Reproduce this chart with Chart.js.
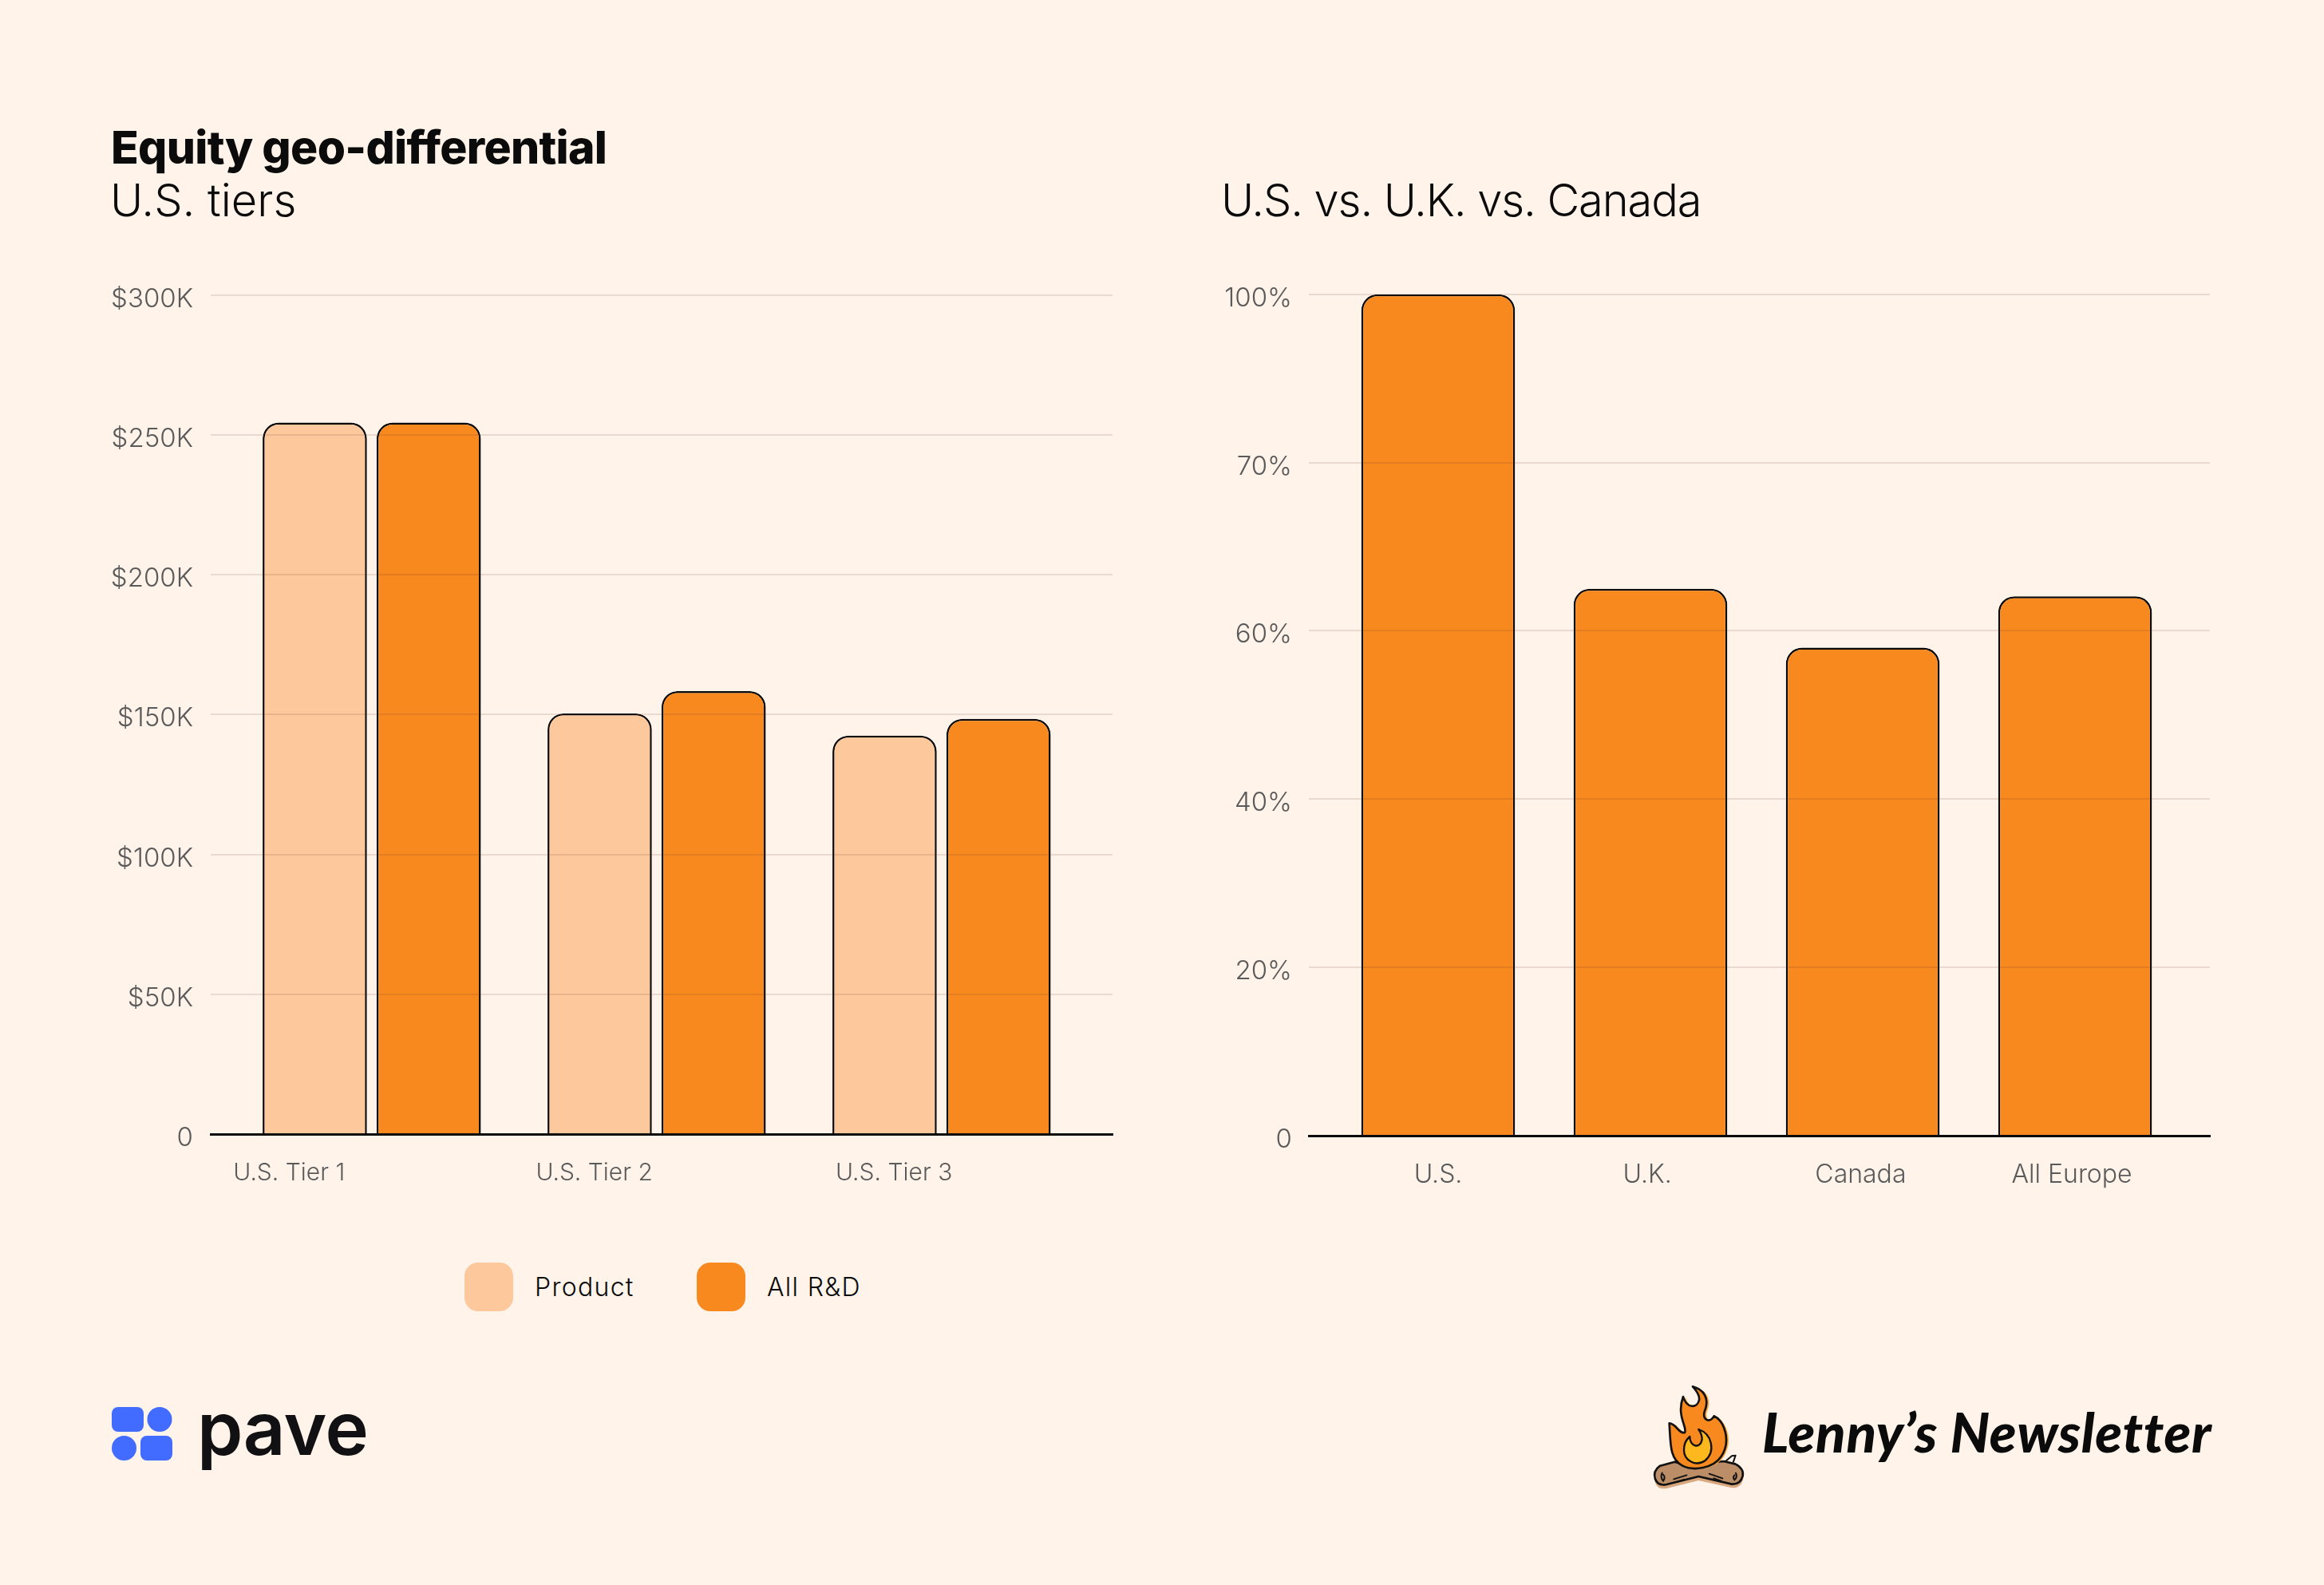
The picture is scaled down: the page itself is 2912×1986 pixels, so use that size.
<!DOCTYPE html>
<html lang="en">
<head>
<meta charset="utf-8">
<title>Equity geo-differential</title>
<script src="https://cdn.jsdelivr.net/npm/chart.js@4"></script>
<style>
  html, body { margin: 0; padding: 0; background: #FFF3EA; }
  #page { position: relative; width: 2912px; height: 1986px; overflow: hidden; background: #FFF3EA; font-family: Inter, sans-serif; color: #0B0B0B; }
  #page > * { position: absolute; }
  canvas { display: block; }
  .heading { white-space: nowrap; line-height: 1; }
  .title { left: 139px; top: 156px; font-size: 57px; font-weight: 800; letter-spacing: -0.7px; }
  .sub { top: 223px; font-size: 56px; font-weight: 300; }
  .swatch { top: 1582px; width: 61px; height: 61px; border-radius: 17px; }
  .legend-text { top: 1597px; font-size: 32px; font-weight: 300; line-height: 1; white-space: nowrap; letter-spacing: 1.3px; }
  .pave-word { left: 247px; top: 1744px; font-size: 92px; font-weight: 600; line-height: 1; color: #111114; letter-spacing: -0.5px; }
  .lenny-word { left: 2208px; top: 1759px; font-family: Lato, sans-serif; font-style: italic; font-weight: 900; font-size: 69px; line-height: 1; white-space: nowrap; color: #0B0B0B; letter-spacing: 0.7px; }
</style>
</head>
<body>
<div id="page">
  <div class="heading title">Equity geo-differential</div>
  <div class="heading sub" style="left:138px;letter-spacing:0">U.S. tiers</div>
  <div class="heading sub" style="left:1530px;letter-spacing:-1.1px">U.S. vs. U.K. vs. Canada</div>

  <canvas id="tierChart" width="1330" height="1212" style="left:100px;top:328px"></canvas>
  <canvas id="regionChart" width="1330" height="1212" style="left:1476px;top:328px"></canvas>

  <div id="legend"></div>

  <svg style="left:140px;top:1763px" width="76" height="68" viewBox="0 0 76 68" fill="#426BFF">
    <rect x="0" y="0" width="40" height="31" rx="8"/>
    <circle cx="60" cy="15.5" r="15.5"/>
    <circle cx="15.5" cy="51.5" r="15.5"/>
    <rect x="36" y="36" width="40" height="31" rx="8"/>
  </svg>
  <div class="pave-word">pave</div>

  <svg style="left:2060px;top:1725px" width="140" height="150" viewBox="0 0 420 450">
    <path d="M330 410 Q365 412 373 375 Q378 345 345 328 L150 330 L115 320 L60 335 Q32 355 42 390 Q52 418 85 412 L205 382 Z" fill="#D9A77E" transform="translate(0 8)"/>
    <path d="M302 322 L330 298 L344 296 L335 322" fill="#FFF3EA" stroke="#111" stroke-width="6" stroke-linejoin="round"/>
    <path d="M330 404 Q362 406 371 373 Q376 345 343 328 L300 318 L150 330 L115 320 L60 335 Q32 355 42 385 Q52 412 85 405 L205 375 Z" fill="#BC8E68" stroke="#111" stroke-width="8" stroke-linejoin="round"/>
    <path d="M68 362 Q60 378 72 392 Q82 378 72 368 M345 362 Q352 378 340 388 Q332 378 340 370 M112 385 L160 370 M125 395 L150 387 M245 365 L295 382 M262 382 L290 392" fill="none" stroke="#111" stroke-width="6" stroke-linecap="round"/>
    <path d="M188 37 C228 48 254 80 232 132 C225 160 250 178 268 148 C305 165 335 240 295 300 C265 345 190 355 150 335 C100 310 100 250 100 175 C125 175 135 215 158 210 C170 190 125 150 152 75 C165 120 205 120 212 88 C215 70 200 50 188 37 Z" fill="#FAA83B" transform="translate(4 2)"/>
    <path d="M183 37 C223 48 249 80 227 132 C220 160 245 178 263 148 C300 165 330 240 290 300 C260 345 185 355 145 335 C95 310 100 250 95 175 C120 175 130 215 153 210 C165 190 120 150 147 75 C160 120 200 120 207 88 C210 70 195 50 183 37 Z" fill="#F7891F" stroke="#111" stroke-width="8" stroke-linejoin="round"/>
    <path d="M205 198 C255 215 270 280 230 315 C195 340 150 315 150 275 C150 250 160 235 172 225 C170 262 212 275 218 235 C218 220 212 208 205 198 Z" fill="#FDB81E" stroke="#111" stroke-width="7" stroke-linejoin="round"/>
  </svg>
  <div class="lenny-word">Lenny’s Newsletter</div>
</div>

<script>
// Values and labels for the two bar charts
const tierLabels = ['U.S. Tier 1', 'U.S. Tier 2', 'U.S. Tier 3'];
const productEquity = [254400, 150400, 142500];
const allRdEquity = [254400, 158400, 148500];
const tierTicks = ['0', '$50K', '$100K', '$150K', '$200K', '$250K', '$300K'];

const regionLabels = ['U.S.', 'U.K.', 'Canada', 'All Europe'];
const regionEquity = [100, 65, 58, 64.1];
const regionTicks = ['0', '20%', '40%', '60%', '70%', '100%'];

const PRODUCT_COLOR = '#FEC89D';
const RD_COLOR = '#F7891F';
const GRID_COLOR = 'rgba(90, 50, 30, 0.13)';
const TICK_COLOR = '#5A5A5A';
const INK = '#0A0A0A';
const Y_TICK_FONT = { family: 'Inter, sans-serif', size: 33, weight: '300' };

// Group positions along the x axis are 0, 1, 2...; labels may sit off-centre from them
const tierLabelAt = [-0.29, 0.781, 1.833];
const regionLabelAt = [0, 0.985, 1.99, 2.985];

function toPoints(values) {
  return values.map((y, x) => ({ x, y }));
}

function barChart(id, datasets, xRange, labelAt, xLabels, yMax, yStep, yLabels, frame) {
  return new Chart(document.getElementById(id), {
    type: 'bar',
    data: { datasets },
    options: {
      responsive: false,
      animation: false,
      layout: { padding: { top: 20, right: frame.right, left: 0, bottom: 0 } },
      plugins: { legend: { display: false }, tooltip: { enabled: false } },
      scales: {
        x: {
          type: 'linear',
          offset: false,
          min: xRange[0],
          max: xRange[1],
          afterBuildTicks: (scale) => { scale.ticks = labelAt.map((value) => ({ value })); },
          afterFit: (scale) => { scale.height = frame.xAxis; },
          grid: { display: false, offset: false, drawTicks: false },
          border: { display: true, color: INK, width: 3, z: 3 },
          ticks: {
            autoSkip: false, maxRotation: 0, minRotation: 0, padding: frame.xPad,
            color: TICK_COLOR,
            font: { family: 'Inter, sans-serif', size: frame.xFont, weight: '300' },
            callback: (value, index) => xLabels[index]
          }
        },
        y: {
          min: 0,
          max: yMax,
          afterFit: (scale) => { scale.width = frame.yAxis; },
          grid: { color: GRID_COLOR, lineWidth: 2, z: 1, drawTicks: false },
          border: { display: false },
          ticks: {
            stepSize: yStep, padding: frame.yPad, labelOffset: 5,
            color: TICK_COLOR, font: Y_TICK_FONT,
            callback: (value, index) => yLabels[index]
          }
        }
      }
    }
  });
}

const barStyle = {
  borderColor: INK,
  borderWidth: { top: 2.5, left: 2.5, right: 2.5, bottom: 0 },
  borderRadius: { topLeft: 20, topRight: 20, bottomLeft: 0, bottomRight: 0 },
  borderSkipped: false
};

barChart('tierChart',
  [
    { label: 'Product', data: toPoints(productEquity), backgroundColor: PRODUCT_COLOR, categoryPercentage: 0.8, barPercentage: 0.915, ...barStyle },
    { label: 'All R&D', data: toPoints(allRdEquity), backgroundColor: RD_COLOR, categoryPercentage: 0.8, barPercentage: 0.915, ...barStyle }
  ],
  [-0.5653, 2.6], tierLabelAt, tierLabels, 300000, 50000, tierTicks,
  { right: 36, xAxis: 119, xPad: 31, yAxis: 164, yPad: 22, xFont: 30 });

barChart('regionChart',
  [
    { label: 'Equity vs. U.S.', data: toPoints(regionEquity), backgroundColor: RD_COLOR, categoryPercentage: 1, barPercentage: 0.735, ...barStyle }
  ],
  [-0.609, 3.635], regionLabelAt, regionLabels, 100, 20, regionTicks,
  { right: 37, xAxis: 117, xPad: 30, yAxis: 164, yPad: 21, xFont: 32 });

// Legend row under the left chart, built from the dataset names and colours
const legendItems = [
  { label: 'Product', color: PRODUCT_COLOR, boxX: 582, textX: 670 },
  { label: 'All R&D', color: RD_COLOR, boxX: 873, textX: 961 }
];
const legend = document.getElementById('legend');
legendItems.forEach((item) => {
  const swatch = document.createElement('div');
  swatch.className = 'swatch';
  swatch.style.cssText = `position:absolute;left:${item.boxX}px;background:${item.color}`;
  const text = document.createElement('div');
  text.className = 'legend-text';
  text.style.cssText = `position:absolute;left:${item.textX}px`;
  text.textContent = item.label;
  legend.append(swatch, text);
});
</script>
</body>
</html>
